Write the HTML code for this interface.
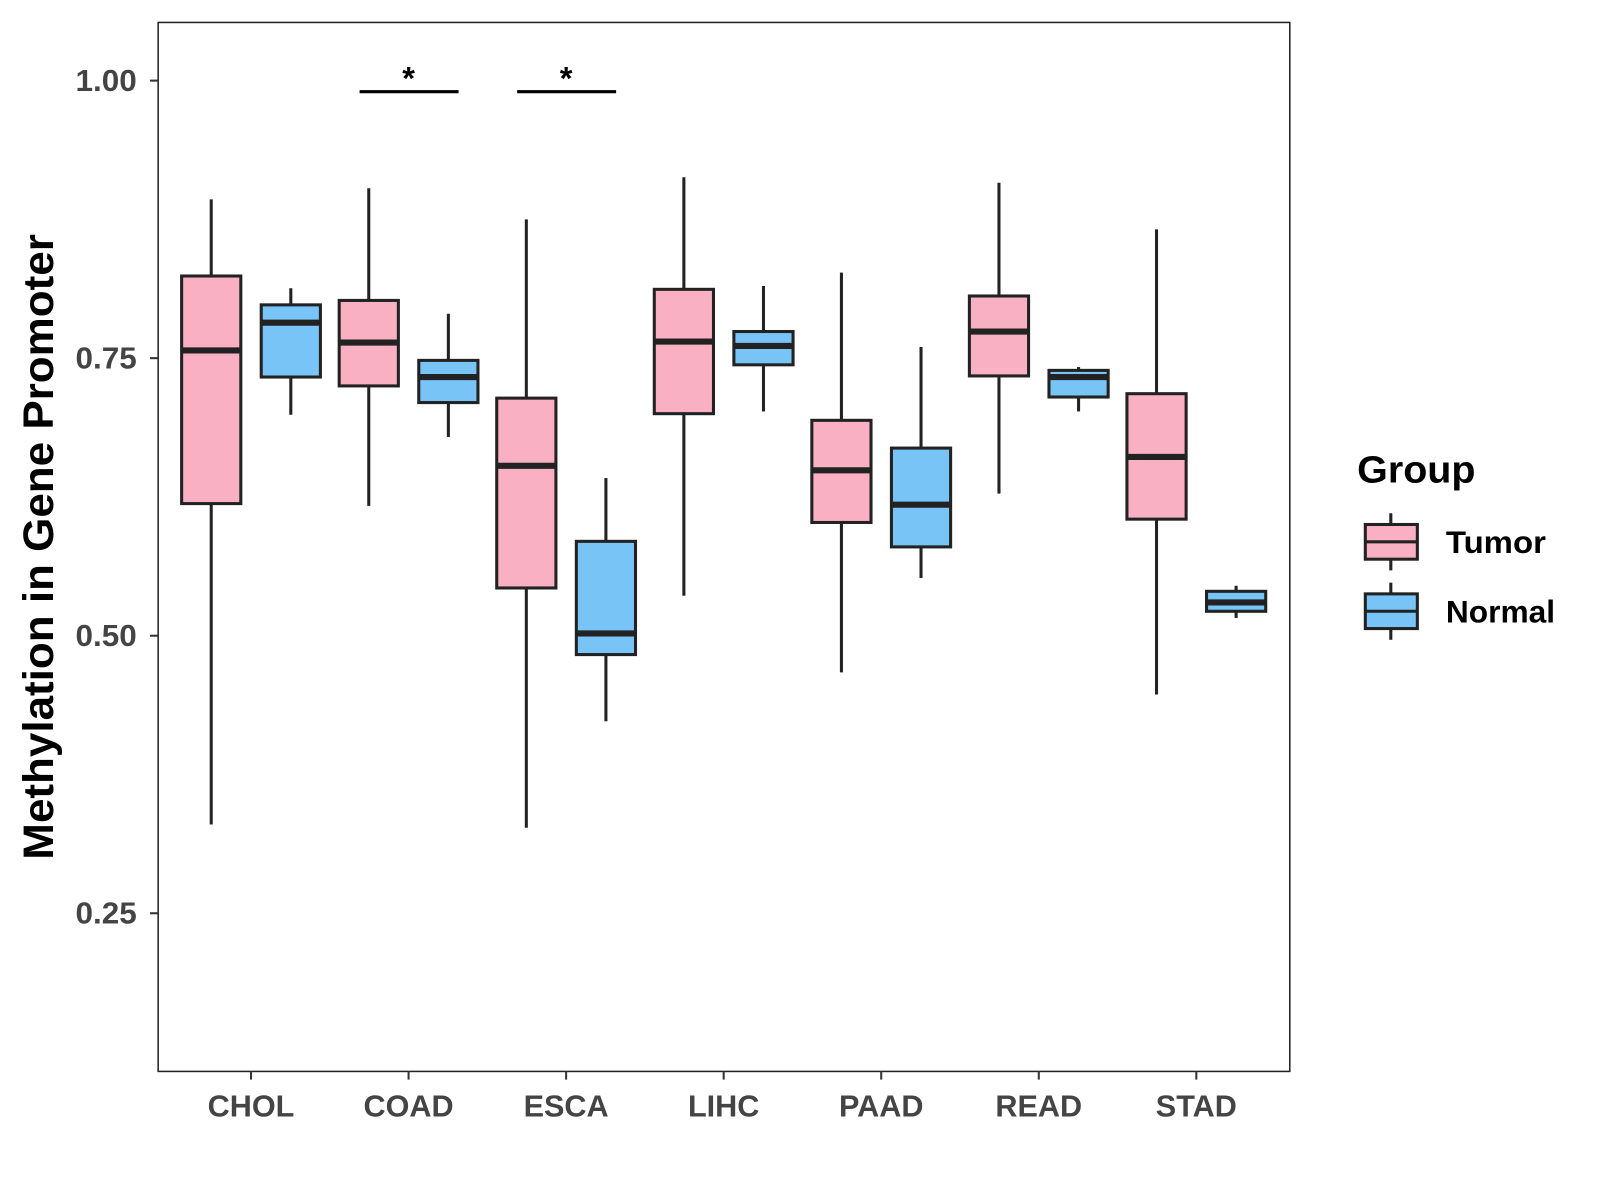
<!DOCTYPE html>
<html><head><meta charset="utf-8"><style>
html,body{margin:0;padding:0;background:#fff}
svg{display:block}
text{font-family:"Liberation Sans",Arial,sans-serif}
</style></head><body>
<svg id="chart" width="1600" height="1200" viewBox="0 0 1568 1176" xmlns="http://www.w3.org/2000/svg">
<rect width="1568" height="1176" fill="#fff"/>
<g id="plot"></g>
</svg>
<script>
const categories = ["CHOL","COAD","ESCA","LIHC","PAAD","READ","STAD"];
const tumorLow  = [0.330,0.617,0.327,0.536,0.467,0.628,0.447];
const tumorQ1   = [0.619,0.725,0.543,0.700,0.602,0.734,0.605];
const tumorMed  = [0.757,0.764,0.653,0.765,0.649,0.774,0.661];
const tumorQ3   = [0.824,0.802,0.714,0.812,0.694,0.806,0.718];
const tumorHigh = [0.893,0.903,0.875,0.913,0.827,0.908,0.866];
const normalLow  = [0.699,0.679,0.423,0.702,0.552,0.702,0.516];
const normalQ1   = [0.733,0.710,0.483,0.744,0.580,0.715,0.522];
const normalMed  = [0.782,0.733,0.502,0.761,0.618,0.733,0.530];
const normalQ3   = [0.798,0.748,0.585,0.774,0.669,0.739,0.540];
const normalHigh = [0.813,0.790,0.642,0.815,0.760,0.742,0.545];
const yTicks = [0.25,0.50,0.75,1.00];
const yTickLabels = ["0.25","0.50","0.75","1.00"];
const sigCategories = ["COAD","ESCA"];
const sigLevel = 0.99;

const NS="http://www.w3.org/2000/svg";
const g=document.getElementById("plot");
const L=155,R=1264,T=22,B=1050;
const y=v=>623-(v-0.5)*1088;
const x=i=>246+i*154.4;
function el(tag,attrs,parent){const e=document.createElementNS(NS,tag);for(const k in attrs)e.setAttribute(k,attrs[k]);(parent||g).appendChild(e);return e;}

const panel=el("rect",{x:L,y:T,width:R-L,height:B-T,fill:"none",stroke:"#222","stroke-width":1.5});



yTicks.forEach((t,i)=>{
  const tk=el("line",{x1:L-8,x2:L,y1:y(t),y2:y(t),stroke:"#333","stroke-width":2});
  
  
  const tx=el("text",{x:L-21,y:y(t)+10,"text-anchor":"end","font-size":30,"font-weight":"bold",fill:"#444",textLength:60,lengthAdjust:"spacingAndGlyphs"});
  tx.textContent=yTickLabels[i];
  
  
});
categories.forEach((c,i)=>{
  const tk=el("line",{x1:x(i),x2:x(i),y1:B,y2:B+8,stroke:"#333","stroke-width":2});
  
  
  const tx=el("text",{x:x(i),y:B+44,"text-anchor":"middle","font-size":30,"font-weight":"bold",fill:"#444"});
  tx.textContent=c;
  
  
});

function box(cx,lo,q1,md,q3,hi,fill,name){
  const grp=el("g",{});
  
  
  const w=29;
  el("line",{x1:cx,x2:cx,y1:y(hi),y2:y(q3),stroke:"#222","stroke-width":3},grp);
  el("line",{x1:cx,x2:cx,y1:y(q1),y2:y(lo),stroke:"#222","stroke-width":3},grp);
  el("rect",{x:cx-w,y:y(q3),width:2*w,height:y(q1)-y(q3),fill:fill,stroke:"#222","stroke-width":3},grp);
  el("line",{x1:cx-w,x2:cx+w,y1:y(md),y2:y(md),stroke:"#222","stroke-width":6},grp);
}
categories.forEach((c,i)=>{
  box(x(i)-39,tumorLow[i],tumorQ1[i],tumorMed[i],tumorQ3[i],tumorHigh[i],"#F9B0C3","tumor-box-"+c.toLowerCase());
  box(x(i)+39,normalLow[i],normalQ1[i],normalMed[i],normalQ3[i],normalHigh[i],"#78C4F7","normal-box-"+c.toLowerCase());
});
sigCategories.forEach(c=>{
  const i=categories.indexOf(c);
  const ln=el("line",{x1:x(i)-48,x2:x(i)+49,y1:y(sigLevel),y2:y(sigLevel),stroke:"#000","stroke-width":3});
  
  
  const st=el("text",{x:x(i),y:y(sigLevel)-2,"text-anchor":"middle","font-size":32,"font-weight":"bold",fill:"#000"});
  st.textContent="*";
  
  
});

const yt=el("text",{x:0,y:0,transform:"translate(52,536) rotate(-90)","text-anchor":"middle","font-size":42,"font-weight":"bold",fill:"#000",textLength:613,lengthAdjust:"spacingAndGlyphs"});
yt.textContent="Methylation in Gene Promoter";



const lg=el("g",{});


const lt=el("text",{x:1330,y:473,"font-size":37,"font-weight":"bold",fill:"#000",textLength:116,lengthAdjust:"spacingAndGlyphs"},lg);
lt.textContent="Group";


[["Tumor","#F9B0C3",531,98],["Normal","#78C4F7",599,107]].forEach(([n,f,cy,tl])=>{
  const e=el("g",{},lg);
  
  
  el("line",{x1:1363,x2:1363,y1:cy-28,y2:cy+28,stroke:"#222","stroke-width":3},e);
  el("rect",{x:1338,y:cy-17,width:51,height:34,fill:f,stroke:"#222","stroke-width":3},e);
  el("line",{x1:1338,x2:1389,y1:cy,y2:cy,stroke:"#222","stroke-width":3},e);
  const t=el("text",{x:1417,y:cy+11,"font-size":31,"font-weight":"bold",fill:"#000",textLength:tl,lengthAdjust:"spacingAndGlyphs"},e);
  t.textContent=n;
});
</script>
</body></html>
